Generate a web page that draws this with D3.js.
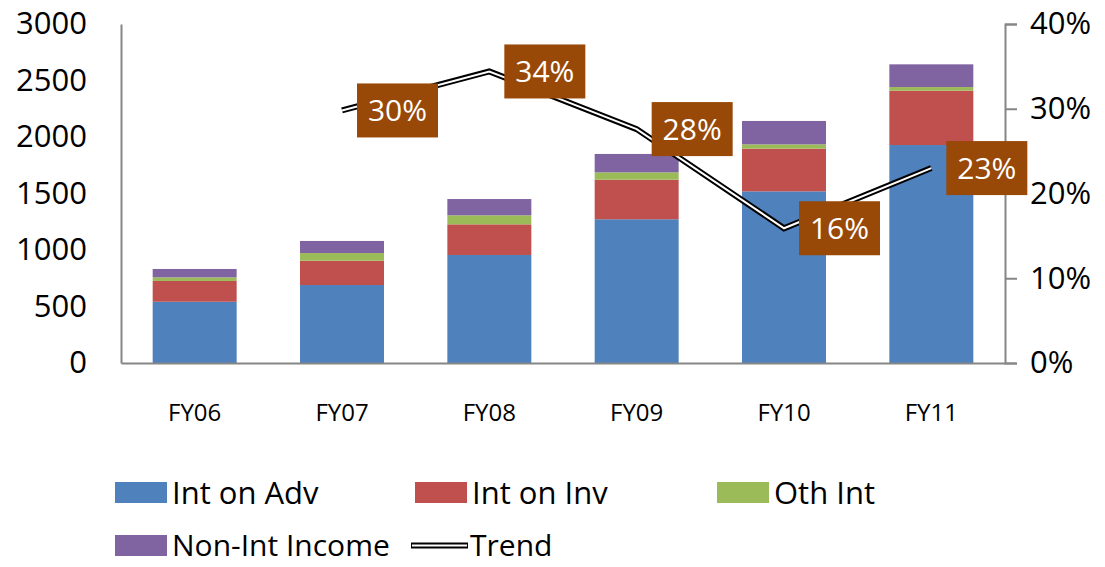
<!DOCTYPE html>
<html>
<head>
<meta charset="utf-8">
<script src="https://cdn.jsdelivr.net/npm/d3@7"></script>
<style>
  body { margin: 0; background: #fff; }
  svg { display: block; font-family: 'Open Sans', sans-serif; }
  .axis { font-family: 'Open Sans', sans-serif; }
  .axis path, .axis line { stroke: #868686; }
  .axis text { fill: #000; }
</style>
</head>
<body>
<div id="chart"></div>
<script>
var years = ['FY06', 'FY07', 'FY08', 'FY09', 'FY10', 'FY11'];
var intOnAdv = [542, 690, 956, 1272, 1519, 1929];
var intOnInv = [184, 215, 271, 350, 378, 481];
var othInt = [32, 68, 80, 65, 38, 32];
var nonIntIncome = [74, 107, 144, 163, 207, 201];
var trend = [null, 0.298, 0.344, 0.276, 0.159, 0.23];

var leftTicks = [0, 500, 1000, 1500, 2000, 2500, 3000];
var rightTicks = [0, 0.1, 0.2, 0.3, 0.4];

var seriesNames = ['Int on Adv', 'Int on Inv', 'Oth Int', 'Non-Int Income'];
var seriesColors = ['#4F81BD', '#C0504D', '#9BBB59', '#8064A2'];
var labelColor = '#984807';

var width = 1105, height = 567;
var margin = { top: 24, right: 100, bottom: 204, left: 121 };
var plotW = width - margin.left - margin.right;
var plotH = height - margin.top - margin.bottom;

var svg = d3.select('#chart')
  .append('svg')
  .attr('width', width)
  .attr('height', height);

var g = svg.append('g')
  .attr('transform', 'translate(' + margin.left + ',' + margin.top + ')');

//--- SCALES
var x = d3.scaleBand()
  .domain(years)
  .range([0, plotW])
  .paddingInner(0.43)
  .paddingOuter(0.215);

var y = d3.scaleLinear().domain([0, 3000]).range([plotH, 0]);
var y2 = d3.scaleLinear().domain([0, 0.4]).range([plotH, 0]);

//--- STACK DATA
var rows = years.map(function(d, i) {
  return { year: d, a: intOnAdv[i], b: intOnInv[i], c: othInt[i], d: nonIntIncome[i] };
});
var stack = d3.stack().keys(['a', 'b', 'c', 'd'])(rows);

//--- BARS
g.selectAll('.layer')
  .data(stack)
  .enter().append('g')
  .attr('fill', function(d, i) { return seriesColors[i]; })
  .selectAll('rect')
  .data(function(d) { return d; })
  .enter().append('rect')
  .attr('x', function(d) { return x(d.data.year); })
  .attr('width', x.bandwidth())
  .attr('y', function(d) { return y(d[1]); })
  .attr('height', function(d) { return y(d[0]) - y(d[1]); });

//--- LEFT AXIS
var axL = g.append('g')
  .attr('class', 'axis')
  .call(d3.axisLeft(y).tickValues(leftTicks).tickSize(0).tickPadding(34)
    .tickFormat(d3.format('d')));
axL.selectAll('text').style('font-size', '31px');
axL.select('.domain').attr('stroke-width', 2);

//--- RIGHT AXIS
var axR = g.append('g')
  .attr('class', 'axis')
  .attr('transform', 'translate(' + plotW + ',0)')
  .call(d3.axisRight(y2).tickValues(rightTicks).tickSizeOuter(0).tickSize(12).tickPadding(13)
    .tickFormat(d3.format('.0%')));
axR.selectAll('text').style('font-size', '31px');
axR.selectAll('line, .domain').attr('stroke-width', 2);

//--- BOTTOM AXIS
var axB = g.append('g')
  .attr('class', 'axis')
  .attr('transform', 'translate(0,' + plotH + ')')
  .call(d3.axisBottom(x).tickSize(0).tickPadding(41));
axB.selectAll('text').style('font-size', '24px');
axB.select('.domain').attr('stroke-width', 2);

//--- TREND LINE (double line)
var line = d3.line()
  .defined(function(d) { return d != null; })
  .x(function(d, i) { return x(years[i]) + x.bandwidth() / 2; })
  .y(function(d) { return y2(d); });

g.append('path').datum(trend)
  .attr('d', line)
  .attr('fill', 'none')
  .attr('stroke', '#000')
  .attr('stroke-width', 6);
g.append('path').datum(trend)
  .attr('d', line)
  .attr('fill', 'none')
  .attr('stroke', '#fff')
  .attr('stroke-width', 2);

//--- DATA LABELS
var labels = g.selectAll('.lbl')
  .data(trend.map(function(d, i) { return { v: d, year: years[i] }; })
    .filter(function(d) { return d.v != null; }))
  .enter().append('g')
  .attr('transform', function(d) {
    return 'translate(' + (x(d.year) + x.bandwidth() / 2 + 15) + ',' + y2(d.v) + ')';
  });
labels.append('rect')
  .attr('x', 0).attr('y', -27)
  .attr('width', 81).attr('height', 54)
  .attr('fill', labelColor);
labels.append('text')
  .attr('x', 40.5).attr('y', 0)
  .attr('dy', '0.36em')
  .attr('text-anchor', 'middle')
  .attr('fill', '#fff')
  .style('font-size', '30px')
  .text(function(d) { return d3.format('.0%')(d.v); });

//--- LEGEND
var legendItems = [
  { name: seriesNames[0], color: seriesColors[0], x: 115, y: 482, fs: 31 },
  { name: seriesNames[1], color: seriesColors[1], x: 415, y: 482, fs: 31 },
  { name: seriesNames[2], color: seriesColors[2], x: 717, y: 482, fs: 31 },
  { name: seriesNames[3], color: seriesColors[3], x: 115, y: 535, fs: 30 }
];
var leg = svg.selectAll('.leg')
  .data(legendItems)
  .enter().append('g')
  .attr('transform', function(d) { return 'translate(' + d.x + ',' + d.y + ')'; });
leg.append('rect')
  .attr('width', 52).attr('height', 21)
  .attr('fill', function(d) { return d.color; });
leg.append('text')
  .attr('x', 57).attr('y', 10.5)
  .attr('dy', '0.36em')
  .style('font-size', function(d) { return d.fs + 'px'; })
  .text(function(d) { return d.name; });

var trendLeg = svg.append('g').attr('transform', 'translate(411,545.5)');
trendLeg.append('line').attr('x1', 0).attr('x2', 57)
  .attr('stroke', '#000').attr('stroke-width', 6);
trendLeg.append('line').attr('x1', 1).attr('x2', 56)
  .attr('stroke', '#fff').attr('stroke-width', 2);
trendLeg.append('text')
  .attr('x', 59).attr('y', 0)
  .attr('dy', '0.36em')
  .style('font-size', '30px')
  .text('Trend');
</script>
</body>
</html>
